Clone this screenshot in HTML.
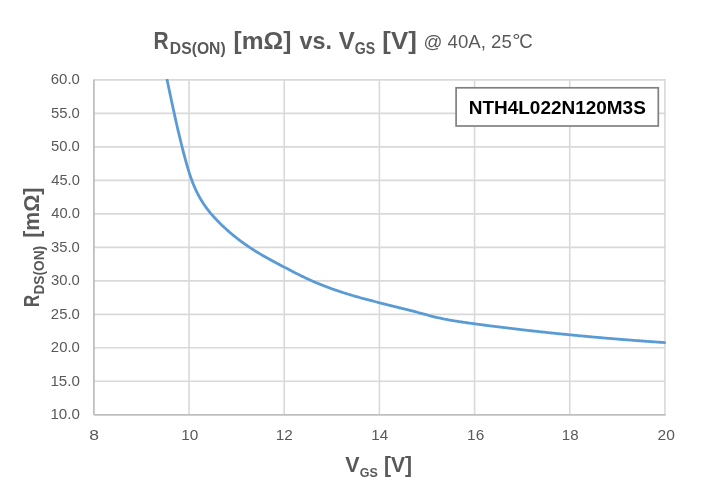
<!DOCTYPE html>
<html><head><meta charset="utf-8"><style>
html,body{margin:0;padding:0;background:#fff;}
body{width:705px;height:491px;overflow:hidden;}
svg{display:block;font-family:"Liberation Sans",sans-serif;will-change:transform;}
</style></head><body>
<svg width="705" height="491" viewBox="0 0 705 491">
<rect width="705" height="491" fill="#fff"/>
<defs><clipPath id="pa"><rect x="93.90" y="78.90" width="571.90" height="335.90"/></clipPath></defs>
<g stroke="#d9d9d9" stroke-width="1.6" fill="none">
<line x1="93.90" y1="79.90" x2="665.70" y2="79.90" />
<line x1="93.90" y1="113.39" x2="665.70" y2="113.39" />
<line x1="93.90" y1="146.88" x2="665.70" y2="146.88" />
<line x1="93.90" y1="180.37" x2="665.70" y2="180.37" />
<line x1="93.90" y1="213.86" x2="665.70" y2="213.86" />
<line x1="93.90" y1="247.35" x2="665.70" y2="247.35" />
<line x1="93.90" y1="280.84" x2="665.70" y2="280.84" />
<line x1="93.90" y1="314.33" x2="665.70" y2="314.33" />
<line x1="93.90" y1="347.82" x2="665.70" y2="347.82" />
<line x1="93.90" y1="381.31" x2="665.70" y2="381.31" />
<line x1="189.07" y1="79.10" x2="189.07" y2="414.80" />
<line x1="284.23" y1="79.10" x2="284.23" y2="414.80" />
<line x1="379.40" y1="79.10" x2="379.40" y2="414.80" />
<line x1="474.57" y1="79.10" x2="474.57" y2="414.80" />
<line x1="569.73" y1="79.10" x2="569.73" y2="414.80" />
<line x1="664.90" y1="79.10" x2="664.90" y2="414.80" />
</g>
<g stroke="#bfbfbf" stroke-width="1.8" fill="none">
<line x1="93.90" y1="79.50" x2="93.90" y2="414.80"/>
<line x1="93.90" y1="414.80" x2="665.70" y2="414.80"/>
</g>
<path d="M167.09 79.90 L167.31 80.92 L167.52 81.94 L167.74 82.96 L167.95 83.99 L168.17 85.01 L168.38 86.03 L168.60 87.05 L168.81 88.07 L169.03 89.09 L169.24 90.11 L169.46 91.13 L169.67 92.15 L169.89 93.17 L170.10 94.19 L170.32 95.21 L170.53 96.23 L170.75 97.25 L170.97 98.27 L171.18 99.29 L171.40 100.31 L171.62 101.33 L171.84 102.35 L172.06 103.37 L172.27 104.39 L172.49 105.40 L172.71 106.42 L172.93 107.44 L173.15 108.46 L173.37 109.48 L173.60 110.50 L173.82 111.52 L174.04 112.53 L174.26 113.55 L174.49 114.57 L174.71 115.59 L174.94 116.60 L175.16 117.62 L175.39 118.64 L175.62 119.65 L175.85 120.67 L176.08 121.69 L176.31 122.70 L176.54 123.72 L176.77 124.74 L177.00 125.75 L177.23 126.77 L177.47 127.78 L177.70 128.80 L177.94 129.81 L178.17 130.83 L178.41 131.84 L178.65 132.86 L178.89 133.87 L179.13 134.88 L179.37 135.90 L179.62 136.91 L179.86 137.92 L180.11 138.94 L180.35 139.95 L180.60 140.96 L180.85 141.98 L181.10 142.99 L181.35 144.00 L181.60 145.01 L181.86 146.02 L182.11 147.03 L182.37 148.04 L182.63 149.05 L182.89 150.06 L183.15 151.07 L183.41 152.08 L183.67 153.09 L183.94 154.10 L184.20 155.11 L184.47 156.12 L184.74 157.13 L185.01 158.13 L185.28 159.14 L185.56 160.15 L185.83 161.16 L186.11 162.16 L186.39 163.17 L186.67 164.17 L186.96 165.18 L187.25 166.18 L187.54 167.18 L187.83 168.18 L188.13 169.18 L188.43 170.18 L188.74 171.18 L189.05 172.18 L189.37 173.17 L189.69 174.16 L190.01 175.15 L190.35 176.14 L190.68 177.13 L191.03 178.11 L191.38 179.09 L191.73 180.07 L192.10 181.05 L192.47 182.02 L192.85 182.99 L193.23 183.96 L193.62 184.92 L194.03 185.88 L194.43 186.84 L194.85 187.79 L195.27 188.74 L195.71 189.69 L196.15 190.63 L196.60 191.57 L197.06 192.50 L197.52 193.43 L198.00 194.35 L198.48 195.27 L198.98 196.19 L199.48 197.10 L199.99 198.00 L200.51 198.90 L201.04 199.79 L201.58 200.68 L202.13 201.56 L202.68 202.44 L203.25 203.31 L203.82 204.18 L204.41 205.04 L205.00 205.89 L205.60 206.74 L206.21 207.58 L206.83 208.41 L207.46 209.24 L208.10 210.07 L208.74 210.88 L209.39 211.70 L210.05 212.50 L210.71 213.31 L211.39 214.10 L212.07 214.89 L212.75 215.68 L213.44 216.46 L214.14 217.23 L214.85 218.00 L215.56 218.77 L216.27 219.53 L216.99 220.28 L217.72 221.04 L218.45 221.78 L219.19 222.52 L219.93 223.26 L220.67 223.99 L221.42 224.72 L222.17 225.44 L222.93 226.16 L223.69 226.88 L224.46 227.59 L225.22 228.30 L226.00 229.00 L226.77 229.70 L227.55 230.39 L228.33 231.08 L229.12 231.77 L229.91 232.45 L230.70 233.12 L231.50 233.79 L232.30 234.46 L233.10 235.13 L233.91 235.79 L234.72 236.44 L235.54 237.09 L236.35 237.74 L237.17 238.38 L238.00 239.02 L238.82 239.65 L239.65 240.28 L240.49 240.91 L241.32 241.53 L242.16 242.15 L243.01 242.76 L243.85 243.37 L244.70 243.97 L245.55 244.57 L246.41 245.16 L247.26 245.76 L248.12 246.34 L248.99 246.93 L249.85 247.50 L250.72 248.08 L251.59 248.65 L252.47 249.21 L253.34 249.78 L254.22 250.33 L255.10 250.89 L255.99 251.43 L256.87 251.98 L257.76 252.52 L258.66 253.06 L259.55 253.59 L260.45 254.12 L261.34 254.65 L262.24 255.17 L263.14 255.69 L264.05 256.21 L264.95 256.73 L265.86 257.24 L266.77 257.75 L267.68 258.26 L268.59 258.76 L269.50 259.27 L270.42 259.77 L271.33 260.27 L272.25 260.76 L273.17 261.26 L274.09 261.75 L275.01 262.25 L275.93 262.74 L276.85 263.23 L277.77 263.72 L278.69 264.21 L279.61 264.70 L280.54 265.18 L281.46 265.67 L282.39 266.16 L283.31 266.65 L284.23 267.13 L285.16 267.62 L286.08 268.10 L287.01 268.59 L287.93 269.07 L288.86 269.56 L289.78 270.04 L290.71 270.52 L291.64 271.00 L292.57 271.48 L293.50 271.96 L294.43 272.44 L295.36 272.91 L296.29 273.38 L297.22 273.85 L298.15 274.32 L299.09 274.79 L300.02 275.25 L300.96 275.71 L301.89 276.17 L302.83 276.63 L303.77 277.08 L304.71 277.53 L305.65 277.98 L306.60 278.42 L307.54 278.86 L308.49 279.30 L309.43 279.74 L310.38 280.17 L311.33 280.59 L312.29 281.02 L313.24 281.43 L314.20 281.85 L315.15 282.26 L316.11 282.67 L317.07 283.07 L318.03 283.47 L319.00 283.87 L319.96 284.26 L320.93 284.65 L321.89 285.04 L322.86 285.42 L323.83 285.80 L324.80 286.17 L325.78 286.55 L326.75 286.91 L327.73 287.28 L328.70 287.64 L329.68 288.00 L330.66 288.36 L331.64 288.71 L332.62 289.06 L333.60 289.41 L334.59 289.75 L335.57 290.09 L336.56 290.43 L337.54 290.77 L338.53 291.10 L339.52 291.43 L340.51 291.76 L341.50 292.08 L342.49 292.40 L343.48 292.72 L344.48 293.04 L345.47 293.35 L346.46 293.66 L347.46 293.97 L348.46 294.27 L349.45 294.58 L350.45 294.88 L351.45 295.18 L352.45 295.47 L353.45 295.77 L354.45 296.06 L355.45 296.35 L356.46 296.64 L357.46 296.92 L358.46 297.21 L359.47 297.49 L360.47 297.77 L361.48 298.04 L362.48 298.32 L363.49 298.59 L364.49 298.87 L365.50 299.14 L366.51 299.40 L367.51 299.67 L368.52 299.94 L369.53 300.20 L370.54 300.46 L371.55 300.72 L372.56 300.98 L373.57 301.24 L374.58 301.50 L375.59 301.76 L376.60 302.01 L377.61 302.27 L378.62 302.52 L379.63 302.78 L380.64 303.03 L381.66 303.28 L382.67 303.53 L383.68 303.78 L384.69 304.03 L385.70 304.28 L386.72 304.53 L387.73 304.78 L388.74 305.03 L389.75 305.28 L390.77 305.53 L391.78 305.78 L392.79 306.03 L393.80 306.28 L394.82 306.53 L395.83 306.78 L396.84 307.03 L397.85 307.28 L398.86 307.54 L399.88 307.79 L400.89 308.04 L401.90 308.30 L402.91 308.55 L403.92 308.81 L404.93 309.06 L405.94 309.32 L406.95 309.58 L407.96 309.84 L408.97 310.10 L409.98 310.36 L410.99 310.63 L412.00 310.89 L413.01 311.16 L414.01 311.42 L415.02 311.69 L416.03 311.97 L417.04 312.24 L418.04 312.51 L419.05 312.79 L420.05 313.06 L421.06 313.34 L422.07 313.61 L423.07 313.89 L424.08 314.16 L425.08 314.43 L426.09 314.70 L427.10 314.97 L428.10 315.24 L429.11 315.51 L430.12 315.77 L431.13 316.03 L432.14 316.29 L433.15 316.55 L434.16 316.80 L435.17 317.04 L436.18 317.29 L437.19 317.52 L438.21 317.76 L439.22 317.99 L440.24 318.21 L441.25 318.43 L442.27 318.64 L443.29 318.85 L444.31 319.05 L445.33 319.25 L446.35 319.45 L447.37 319.64 L448.40 319.83 L449.42 320.01 L450.45 320.20 L451.47 320.37 L452.50 320.55 L453.53 320.72 L454.55 320.89 L455.58 321.05 L456.61 321.22 L457.64 321.38 L458.67 321.54 L459.70 321.69 L460.73 321.85 L461.76 322.00 L462.79 322.16 L463.82 322.31 L464.85 322.46 L465.88 322.60 L466.91 322.75 L467.95 322.90 L468.98 323.04 L470.01 323.19 L471.04 323.33 L472.08 323.47 L473.11 323.62 L474.14 323.76 L475.18 323.90 L476.21 324.04 L477.24 324.18 L478.28 324.31 L479.31 324.45 L480.35 324.59 L481.38 324.72 L482.41 324.86 L483.45 324.99 L484.48 325.13 L485.52 325.26 L486.55 325.40 L487.59 325.53 L488.62 325.66 L489.65 325.79 L490.69 325.93 L491.72 326.06 L492.76 326.19 L493.79 326.32 L494.83 326.45 L495.86 326.58 L496.90 326.71 L497.93 326.84 L498.97 326.97 L500.00 327.10 L501.04 327.22 L502.07 327.35 L503.11 327.48 L504.14 327.61 L505.18 327.73 L506.21 327.86 L507.25 327.98 L508.28 328.11 L509.32 328.23 L510.35 328.36 L511.39 328.48 L512.42 328.60 L513.46 328.73 L514.49 328.85 L515.53 328.97 L516.56 329.09 L517.60 329.21 L518.63 329.34 L519.67 329.46 L520.70 329.58 L521.74 329.70 L522.78 329.82 L523.81 329.93 L524.85 330.05 L525.88 330.17 L526.92 330.29 L527.95 330.41 L528.99 330.52 L530.03 330.64 L531.06 330.76 L532.10 330.87 L533.13 330.99 L534.17 331.10 L535.21 331.22 L536.24 331.33 L537.28 331.44 L538.31 331.56 L539.35 331.67 L540.39 331.78 L541.42 331.89 L542.46 332.01 L543.50 332.12 L544.53 332.23 L545.57 332.34 L546.60 332.45 L547.64 332.56 L548.68 332.67 L549.71 332.78 L550.75 332.89 L551.79 333.00 L552.82 333.10 L553.86 333.21 L554.90 333.32 L555.93 333.42 L556.97 333.53 L558.01 333.64 L559.04 333.74 L560.08 333.85 L561.12 333.95 L562.16 334.06 L563.19 334.16 L564.23 334.26 L565.27 334.37 L566.30 334.47 L567.34 334.57 L568.38 334.68 L569.42 334.78 L570.45 334.88 L571.49 334.98 L572.53 335.08 L573.56 335.18 L574.60 335.28 L575.64 335.38 L576.68 335.48 L577.71 335.58 L578.75 335.68 L579.79 335.78 L580.83 335.87 L581.87 335.97 L582.90 336.07 L583.94 336.16 L584.98 336.26 L586.02 336.36 L587.05 336.45 L588.09 336.55 L589.13 336.64 L590.17 336.74 L591.21 336.83 L592.24 336.92 L593.28 337.02 L594.32 337.11 L595.36 337.20 L596.40 337.29 L597.44 337.39 L598.47 337.48 L599.51 337.57 L600.55 337.66 L601.59 337.75 L602.63 337.84 L603.67 337.93 L604.70 338.02 L605.74 338.11 L606.78 338.20 L607.82 338.28 L608.86 338.37 L609.90 338.46 L610.94 338.55 L611.97 338.63 L613.01 338.72 L614.05 338.81 L615.09 338.89 L616.13 338.98 L617.17 339.06 L618.21 339.15 L619.25 339.23 L620.29 339.32 L621.33 339.40 L622.36 339.48 L623.40 339.57 L624.44 339.65 L625.48 339.73 L626.52 339.81 L627.56 339.89 L628.60 339.98 L629.64 340.06 L630.68 340.14 L631.72 340.22 L632.76 340.30 L633.80 340.38 L634.84 340.46 L635.88 340.53 L636.92 340.61 L637.96 340.69 L639.00 340.77 L640.04 340.85 L641.08 340.92 L642.12 341.00 L643.16 341.08 L644.20 341.15 L645.24 341.23 L646.28 341.30 L647.32 341.38 L648.36 341.45 L649.40 341.53 L650.44 341.60 L651.48 341.68 L652.52 341.75 L653.56 341.82 L654.60 341.90 L655.64 341.97 L656.68 342.04 L657.72 342.11 L658.76 342.18 L659.80 342.26 L660.84 342.33 L661.88 342.40 L662.92 342.47 L663.96 342.54 L665.00 342.61" stroke="#5b9bd5" stroke-width="2.8" fill="none" stroke-linejoin="round" stroke-linecap="round" clip-path="url(#pa)"/>
<rect x="456.1" y="87.8" width="202.2" height="38.2" fill="#fff" stroke="#808080" stroke-width="1.7"/>
<text x="153.60" y="48.60" font-size="24.60" font-weight="bold" fill="#595959" textLength="15.13" lengthAdjust="spacingAndGlyphs">R</text>
<text x="169.85" y="53.60" font-size="15.60" font-weight="bold" fill="#595959" textLength="55.83" lengthAdjust="spacingAndGlyphs">DS(ON)</text>
<text x="233.62" y="48.60" font-size="24.60" font-weight="bold" fill="#595959" textLength="57.86" lengthAdjust="spacingAndGlyphs">[mΩ]</text>
<text x="299.51" y="48.60" font-size="24.60" font-weight="bold" fill="#595959" textLength="32.40" lengthAdjust="spacingAndGlyphs">vs.</text>
<text x="338.74" y="48.60" font-size="24.60" font-weight="bold" fill="#595959" textLength="16.03" lengthAdjust="spacingAndGlyphs">V</text>
<text x="354.72" y="53.60" font-size="15.60" font-weight="bold" fill="#595959" textLength="20.43" lengthAdjust="spacingAndGlyphs">GS</text>
<text x="382.35" y="48.60" font-size="24.60" font-weight="bold" fill="#595959" textLength="34.40" lengthAdjust="spacingAndGlyphs">[V]</text>
<text x="423.43" y="48.40" font-size="18.00"  fill="#595959" textLength="88.35" lengthAdjust="spacingAndGlyphs">@ 40A, 25</text>
<text x="512.37" y="46.60" font-size="19.00"  fill="#595959" textLength="8.28" lengthAdjust="spacingAndGlyphs">°</text>
<text x="519.25" y="48.30" font-size="20.80"  fill="#595959" textLength="13.46" lengthAdjust="spacingAndGlyphs">C</text>
<text x="50.84" y="84.30" font-size="14.80"  fill="#595959" textLength="29.04" lengthAdjust="spacingAndGlyphs">60.0</text>
<text x="51.01" y="117.79" font-size="14.80"  fill="#595959" textLength="28.87" lengthAdjust="spacingAndGlyphs">55.0</text>
<text x="51.01" y="151.28" font-size="14.80"  fill="#595959" textLength="28.87" lengthAdjust="spacingAndGlyphs">50.0</text>
<text x="51.26" y="184.77" font-size="14.80"  fill="#595959" textLength="28.61" lengthAdjust="spacingAndGlyphs">45.0</text>
<text x="51.26" y="218.26" font-size="14.80"  fill="#595959" textLength="28.61" lengthAdjust="spacingAndGlyphs">40.0</text>
<text x="51.04" y="251.75" font-size="14.80"  fill="#595959" textLength="28.84" lengthAdjust="spacingAndGlyphs">35.0</text>
<text x="51.04" y="285.24" font-size="14.80"  fill="#595959" textLength="28.84" lengthAdjust="spacingAndGlyphs">30.0</text>
<text x="50.85" y="318.73" font-size="14.80"  fill="#595959" textLength="29.03" lengthAdjust="spacingAndGlyphs">25.0</text>
<text x="50.85" y="352.22" font-size="14.80"  fill="#595959" textLength="29.03" lengthAdjust="spacingAndGlyphs">20.0</text>
<text x="50.45" y="385.71" font-size="14.80"  fill="#595959" textLength="29.44" lengthAdjust="spacingAndGlyphs">15.0</text>
<text x="50.45" y="419.20" font-size="14.80"  fill="#595959" textLength="29.44" lengthAdjust="spacingAndGlyphs">10.0</text>
<text x="89.24" y="440.20" font-size="14.80"  fill="#595959" textLength="9.72" lengthAdjust="spacingAndGlyphs">8</text>
<text x="181.33" y="440.20" font-size="14.80"  fill="#595959" textLength="17.07" lengthAdjust="spacingAndGlyphs">10</text>
<text x="275.83" y="440.20" font-size="14.80"  fill="#595959" textLength="17.04" lengthAdjust="spacingAndGlyphs">12</text>
<text x="371.24" y="440.20" font-size="14.80"  fill="#595959" textLength="16.90" lengthAdjust="spacingAndGlyphs">14</text>
<text x="467.13" y="440.20" font-size="14.80"  fill="#595959" textLength="17.15" lengthAdjust="spacingAndGlyphs">16</text>
<text x="561.85" y="440.20" font-size="14.80"  fill="#595959" textLength="16.81" lengthAdjust="spacingAndGlyphs">18</text>
<text x="657.52" y="440.20" font-size="14.80"  fill="#595959" textLength="17.29" lengthAdjust="spacingAndGlyphs">20</text>
<text x="345.35" y="472.40" font-size="21.40" font-weight="bold" fill="#595959" textLength="14.29" lengthAdjust="spacingAndGlyphs">V</text>
<text x="359.79" y="477.30" font-size="13.60" font-weight="bold" fill="#595959" textLength="18.00" lengthAdjust="spacingAndGlyphs">GS</text>
<text x="384.02" y="472.20" font-size="21.80" font-weight="bold" fill="#595959" textLength="28.06" lengthAdjust="spacingAndGlyphs">[V]</text>
<text x="468.73" y="113.60" font-size="18.40" font-weight="bold" fill="#000000" textLength="177.11" lengthAdjust="spacingAndGlyphs">NTH4L022N120M3S</text>
<g transform="rotate(-90)">
<text x="-307.03" y="39.00" font-size="21.80" font-weight="bold" fill="#595959" textLength="12.17" lengthAdjust="spacingAndGlyphs">R</text>
<text x="-294.62" y="43.70" font-size="14.40" font-weight="bold" fill="#595959" textLength="48.80" lengthAdjust="spacingAndGlyphs">DS(ON)</text>
<text x="-237.80" y="39.20" font-size="22.20" font-weight="bold" fill="#595959" textLength="50.19" lengthAdjust="spacingAndGlyphs">[mΩ]</text>
</g>
</svg>
</body></html>
